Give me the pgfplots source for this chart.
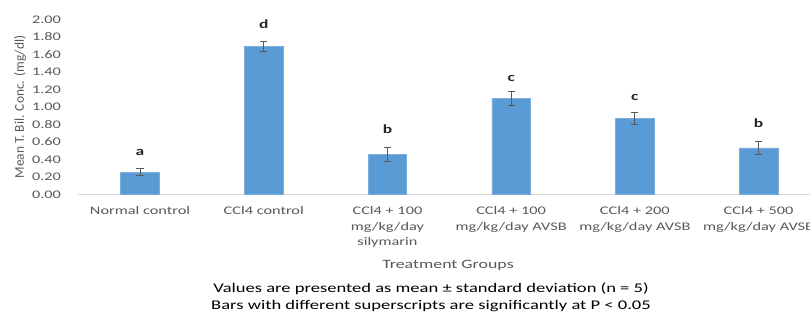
\documentclass[border=0pt]{standalone}
\usepackage{pgfplots}
\pgfplotsset{compat=1.18}
\usepackage{fontspec}
\setmainfont{Carlito}[FakeStretch=1.4]
\newfontfamily\plainfont{Carlito}
\definecolor{barblue}{RGB}{91,155,213}
\definecolor{txtgray}{RGB}{89,89,89}
\definecolor{axgray}{RGB}{217,217,217}
\begin{document}
\begin{tikzpicture}
\useasboundingbox (-78.2bp,-121.7bp) rectangle (731.8bp,194.3bp);
\clip (-78.2bp,-121.7bp) rectangle (731.8bp,194.3bp);
\begin{axis}[
  at={(0,0)}, anchor=south west,
  scale only axis, width=742.2bp, height=175bp,
  xmin=-0.5, xmax=5.5, ymin=0, ymax=2,
  axis x line*=bottom, axis y line*=left,
  y axis line style={draw=none},
  x axis line style={draw=axgray, line width=1pt},
  major tick length=0pt,
  ytick={0,0.2,0.4,0.6,0.8,1.0,1.2,1.4,1.6,1.8,2.0},
  /pgf/number format/assume math mode=true,
  yticklabel style={/pgf/number format/.cd, fixed, fixed zerofill, precision=2, /tikz/.cd,
     font=\fontsize{11.7}{14}\selectfont, text=txtgray, anchor=east, inner sep=0pt, xshift=-17bp},
  xtick={0,1,2,3,4,5},
  xticklabels={{Normal control},{CCl4 control},{CCl4 + 100\\mg/kg/day\\silymarin},{CCl4 + 100\\mg/kg/day AVSB},{CCl4 + 200\\mg/kg/day AVSB},{CCl4 + 500\\mg/kg/day AVSB}},
  xticklabel style={font=\fontsize{11.7}{15.7}\selectfont, text=txtgray, align=center, anchor=north, inner sep=0pt, yshift=-12bp},
  clip=false,
]
\addplot[ybar, bar width=38.6bp, fill=barblue, draw=barblue!80!white, line width=0.6pt,
  error bars/.cd, y dir=both, y explicit,
  error bar style={txtgray, line width=1pt},
  error mark options={rotate=90, mark size=3.6bp, txtgray, line width=1pt}]
  table[x=x, y=y, y error=e] {
x y e
0 0.25 0.04
1 1.69 0.06
2 0.46 0.08
3 1.10 0.08
4 0.87 0.07
5 0.53 0.07
};
\begin{scope}[every node/.style={font=\bfseries\fontsize{12.5}{14}\selectfont, text=black!85}]
\node at (axis cs:0,0.475) {a};
\node at (axis cs:1,1.946) {d};
\node at (axis cs:2,0.746) {b};
\node at (axis cs:3,1.318) {c};
\node at (axis cs:4,1.104) {c};
\node at (axis cs:5,0.811) {b};
\end{scope}
\end{axis}
\node[rotate=90, font=\plainfont\fontsize{13.5}{15}\selectfont, text=txtgray] at (-58bp,87.3bp) {Mean T. Bil. Conc. (mg/dl)};
\node[font=\fontsize{12.8}{15}\selectfont, text=txtgray] at (369.8bp,-70.7bp) {Treatment Groups};
\node[font=\fontsize{13.3}{16}\selectfont, text=black] at (352.8bp,-94bp) {Values are presented as mean ± standard deviation (n = 5)};
\node[font=\fontsize{13.3}{16}\selectfont, text=black] at (352.8bp,-112bp) {Bars with different superscripts are significantly at P < 0.05};
\end{tikzpicture}
\end{document}
